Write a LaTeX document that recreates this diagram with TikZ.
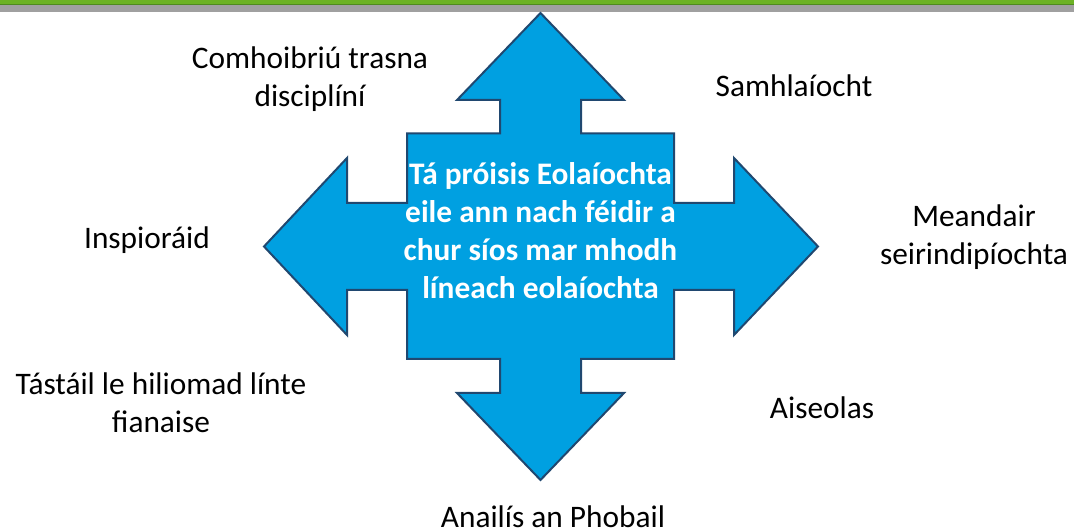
\documentclass[tikz,border=0pt]{standalone}
\usepackage{fontspec}
\setmainfont{Carlito}
\usepackage{tikz}
\tikzset{every picture/.style={line width=0.75pt}}
\definecolor{arrowfill}{RGB}{0,160,225}
\definecolor{arrowline}{RGB}{32,72,112}
\definecolor{bargreen}{RGB}{108,178,36}
\definecolor{bardark}{RGB}{78,138,30}
\definecolor{bargray}{RGB}{160,160,160}

\begin{document}
\begin{tikzpicture}[x=0.75pt,y=0.75pt,yscale=-1,xscale=1,
	outer/.style={font=\fontsize{23.5}{28.5}\selectfont, align=center, text=black},
	inner/.style={font=\fontsize{23.5}{28.5}\selectfont\bfseries, align=center, text=white}]
		\useasboundingbox (0,0) rectangle (1074,530);
		
		%Shape: Rectangle [id:top bar]
		\fill [bargray] (0,5) rectangle (1074,11.7) ;
		\fill [bargreen] (0,0) rectangle (1074,5) ;
		\fill [bardark] (0,3.8) rectangle (1074,5.2) ;
		
		%Shape: Quad Arrow [id:quadarrow]
		\draw [color=arrowline, fill=arrowfill, line width=1.5pt, line join=miter]  (540.5,13) -- (624,100) -- (581,100) -- (581,133.5) -- (674,133.5) -- (674,203) -- (734,203) -- (734,158) -- (818,246.5) -- (734,335) -- (734,290) -- (674,290) -- (674,359) -- (581,359) -- (581,393) -- (624,393) -- (540.5,480) -- (457,393) -- (500,393) -- (500,359) -- (407,359) -- (407,290) -- (347,290) -- (347,335) -- (264,246.5) -- (347,158) -- (347,203) -- (407,203) -- (407,133.5) -- (500,133.5) -- (500,100) -- (457,100) -- cycle ;
		
		% Text Node
		\draw (540.5,231) node [inner] (centre) {Tá próisis Eolaíochta\\eile ann nach féidir a\\chur síos mar mhodh\\líneach eolaíochta};
		% Text Node
		\draw (310,79) node [outer] (comhoibriu) {Comhoibriú trasna\\disciplíní};
		% Text Node
		\draw (794,86) node [outer] (samhlaiocht) {Samhlaíocht};
		% Text Node
		\draw (974,237) node [outer] (meandair) {Meandair\\seirindipíochta};
		% Text Node
		\draw (147,240) node [outer] (inspioraid) {Inspioráid};
		% Text Node
		\draw (161,403) node [outer] (tastail) {Tástáil le hiliomad línte\\fianaise};
		% Text Node
		\draw (822,408) node [outer] (aiseolas) {Aiseolas};
		% Text Node
		\draw (553,517) node [outer] (anailis) {Anailís an Phobail};
		\end{tikzpicture}
\end{document}
